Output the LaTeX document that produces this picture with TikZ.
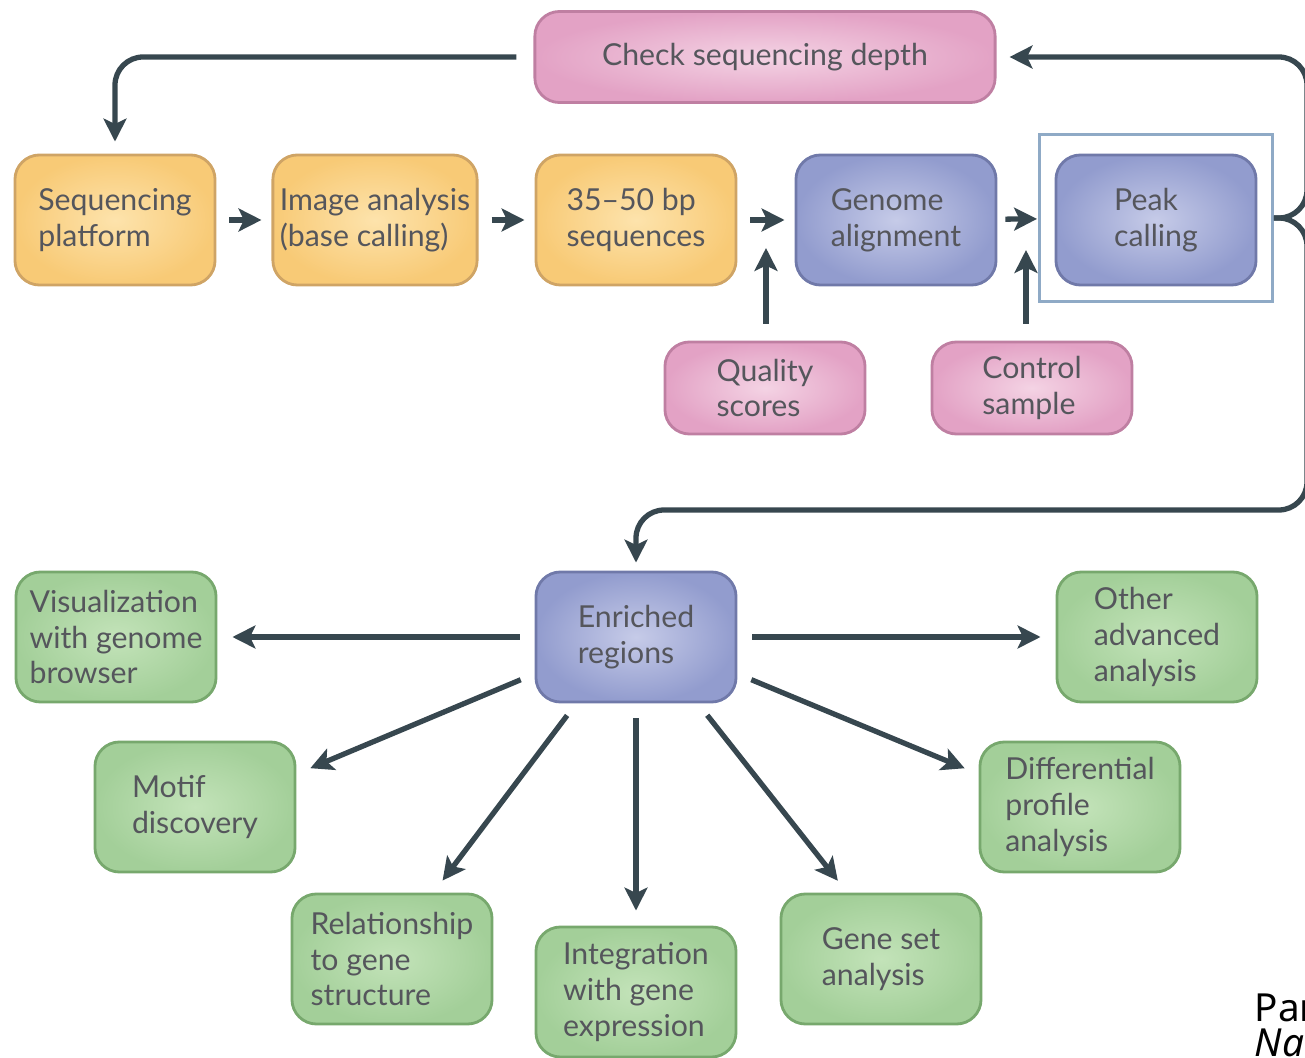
\documentclass[tikz,border=0pt]{standalone}
\usepackage{fontspec}
\setmainfont{Lato}
\newfontfamily\notefont{Noto Sans}
\usetikzlibrary{arrows.meta}
\definecolor{arrowgray}{HTML}{37474F}
\definecolor{boxtext}{HTML}{55565C}
\definecolor{orangeline}{HTML}{CFA465}
\definecolor{orangein}{HTML}{FDE3AC}
\definecolor{orangeout}{HTML}{F8CA76}
\definecolor{pinkline}{HTML}{BF7FA2}
\definecolor{pinkin}{HTML}{F4D3E4}
\definecolor{pinkout}{HTML}{E3A2C5}
\definecolor{blueline}{HTML}{7079A9}
\definecolor{bluein}{HTML}{C6CBE8}
\definecolor{blueout}{HTML}{929CCE}
\definecolor{greenline}{HTML}{77A86D}
\definecolor{greenin}{HTML}{C3E3B9}
\definecolor{greenout}{HTML}{A3CF99}
\definecolor{frameline}{HTML}{8FAAC6}
\tikzset{>/.tip={Stealth[length=6.5pt,width=6.5pt,inset=1.5pt]},
  stepbox/.style={rounded corners=7pt, line width=0.8pt, align=left, text=boxtext,
    font=\fontsize{8.6}{10.2}\selectfont, minimum width=2cm, minimum height=1.3cm, inner sep=2pt},
  seqbox/.style={stepbox, draw=orangeline, shading=radial, inner color=orangein, outer color=orangeout},
  qcbox/.style={stepbox, draw=pinkline, shading=radial, inner color=pinkin, outer color=pinkout},
  procbox/.style={stepbox, draw=blueline, shading=radial, inner color=bluein, outer color=blueout},
  outbox/.style={stepbox, draw=greenline, shading=radial, inner color=greenin, outer color=greenout},
  flow/.style={->, draw=arrowgray, line width=1.5pt},
  short/.style={shorten <=0.13cm, shorten >=0.1cm},
  fan/.style={flow, shorten <=0.15cm, shorten >=0.15cm}}

\begin{document}
\begin{tikzpicture}[x=0.01cm, y=-0.01cm]
\useasboundingbox (0,0) rectangle (1305,1058);

\node[qcbox, minimum width=4.6cm, minimum height=0.91cm] (check) at (765,57) {Check sequencing depth};
\node[seqbox] (seq) at (115,220) {Sequencing\\platform};
\node[seqbox] (img) at (375,220) {Image analysis\\(base calling)};
\node[seqbox] (bp) at (636,220) {35--50 bp\\sequences};
\node[procbox] (gen) at (896,220) {Genome\\alignment};
\node[draw=frameline, line width=0.8pt, fill=white, minimum width=2.33cm, minimum height=1.67cm] (frame) at (1156,218) {};
\node[procbox] (peak) at (1156,220) {Peak\\calling};
\node[qcbox, minimum height=0.92cm] (qual) at (765,388) {Quality\\scores};
\node[qcbox, minimum height=0.92cm] (ctrl) at (1032,388) {Control\\sample};

\node[procbox] (enr) at (636,637) {Enriched\\regions};
\node[outbox] (vis) at (116,637) {Visualization\\with genome\\browser};
\node[outbox] (other) at (1157,637) {Other\\advanced\\analysis};
\node[outbox] (motif) at (195,807) {Motif\\discovery};
\node[outbox] (diff) at (1080,807) {Differential\\profile\\analysis};
\node[outbox] (rel) at (392,959) {Relationship\\to gene\\structure};
\node[outbox] (integ) at (636,992) {Integration\\with gene\\expression};
\node[outbox] (geneset) at (881,959) {Gene set\\analysis};

\coordinate (rtop) at (1307,57);
\coordinate (rbot) at (1307,510);
\coordinate (qualin) at (766,248);
\coordinate (ctrlin) at (1026,250);

\draw[flow, rounded corners=8pt, shorten <=0.17cm, shorten >=0.12cm] (check.west) -| (seq.north);
\draw[flow, rounded corners=8pt, shorten >=0.13cm] (frame.east) -| (rtop) -- (check.east);
\draw[flow, rounded corners=8pt, shorten >=0.08cm] (frame.east) -| (rbot) -| (enr.north);

\draw[flow, short] (seq) -- (img);
\draw[flow, short] (img) -- (bp);
\draw[flow, short] (bp) -- (gen);
\draw[flow, shorten <=0.08cm, shorten >=0.01cm] (gen) -- (frame);
\draw[flow, shorten <=0.17cm] (qualin |- qual.north) -- (qualin);
\draw[flow, shorten <=0.17cm] (ctrlin |- ctrl.north) -- (ctrlin);

\draw[fan] (enr.west) -- (vis.east);
\draw[fan] (enr.east) -- (other.west);
\draw[fan] (enr.200) -- (motif.18);
\draw[fan] (enr.-20) -- (diff.162);
\draw[fan] (enr.228) -- (rel.58);
\draw[fan] (enr.south) -- (integ.north);
\draw[fan] (enr.-47) -- (geneset.117);

\node[anchor=base west, inner sep=0pt, font=\notefont\fontsize{11}{13}\selectfont] (partlabel) at (1254,1022) {Par};
\node[anchor=base west, inner sep=0pt, font=\notefont\itshape\fontsize{11}{13}\selectfont] (journal) at (1254,1057) {Na};
\end{tikzpicture}
\end{document}
